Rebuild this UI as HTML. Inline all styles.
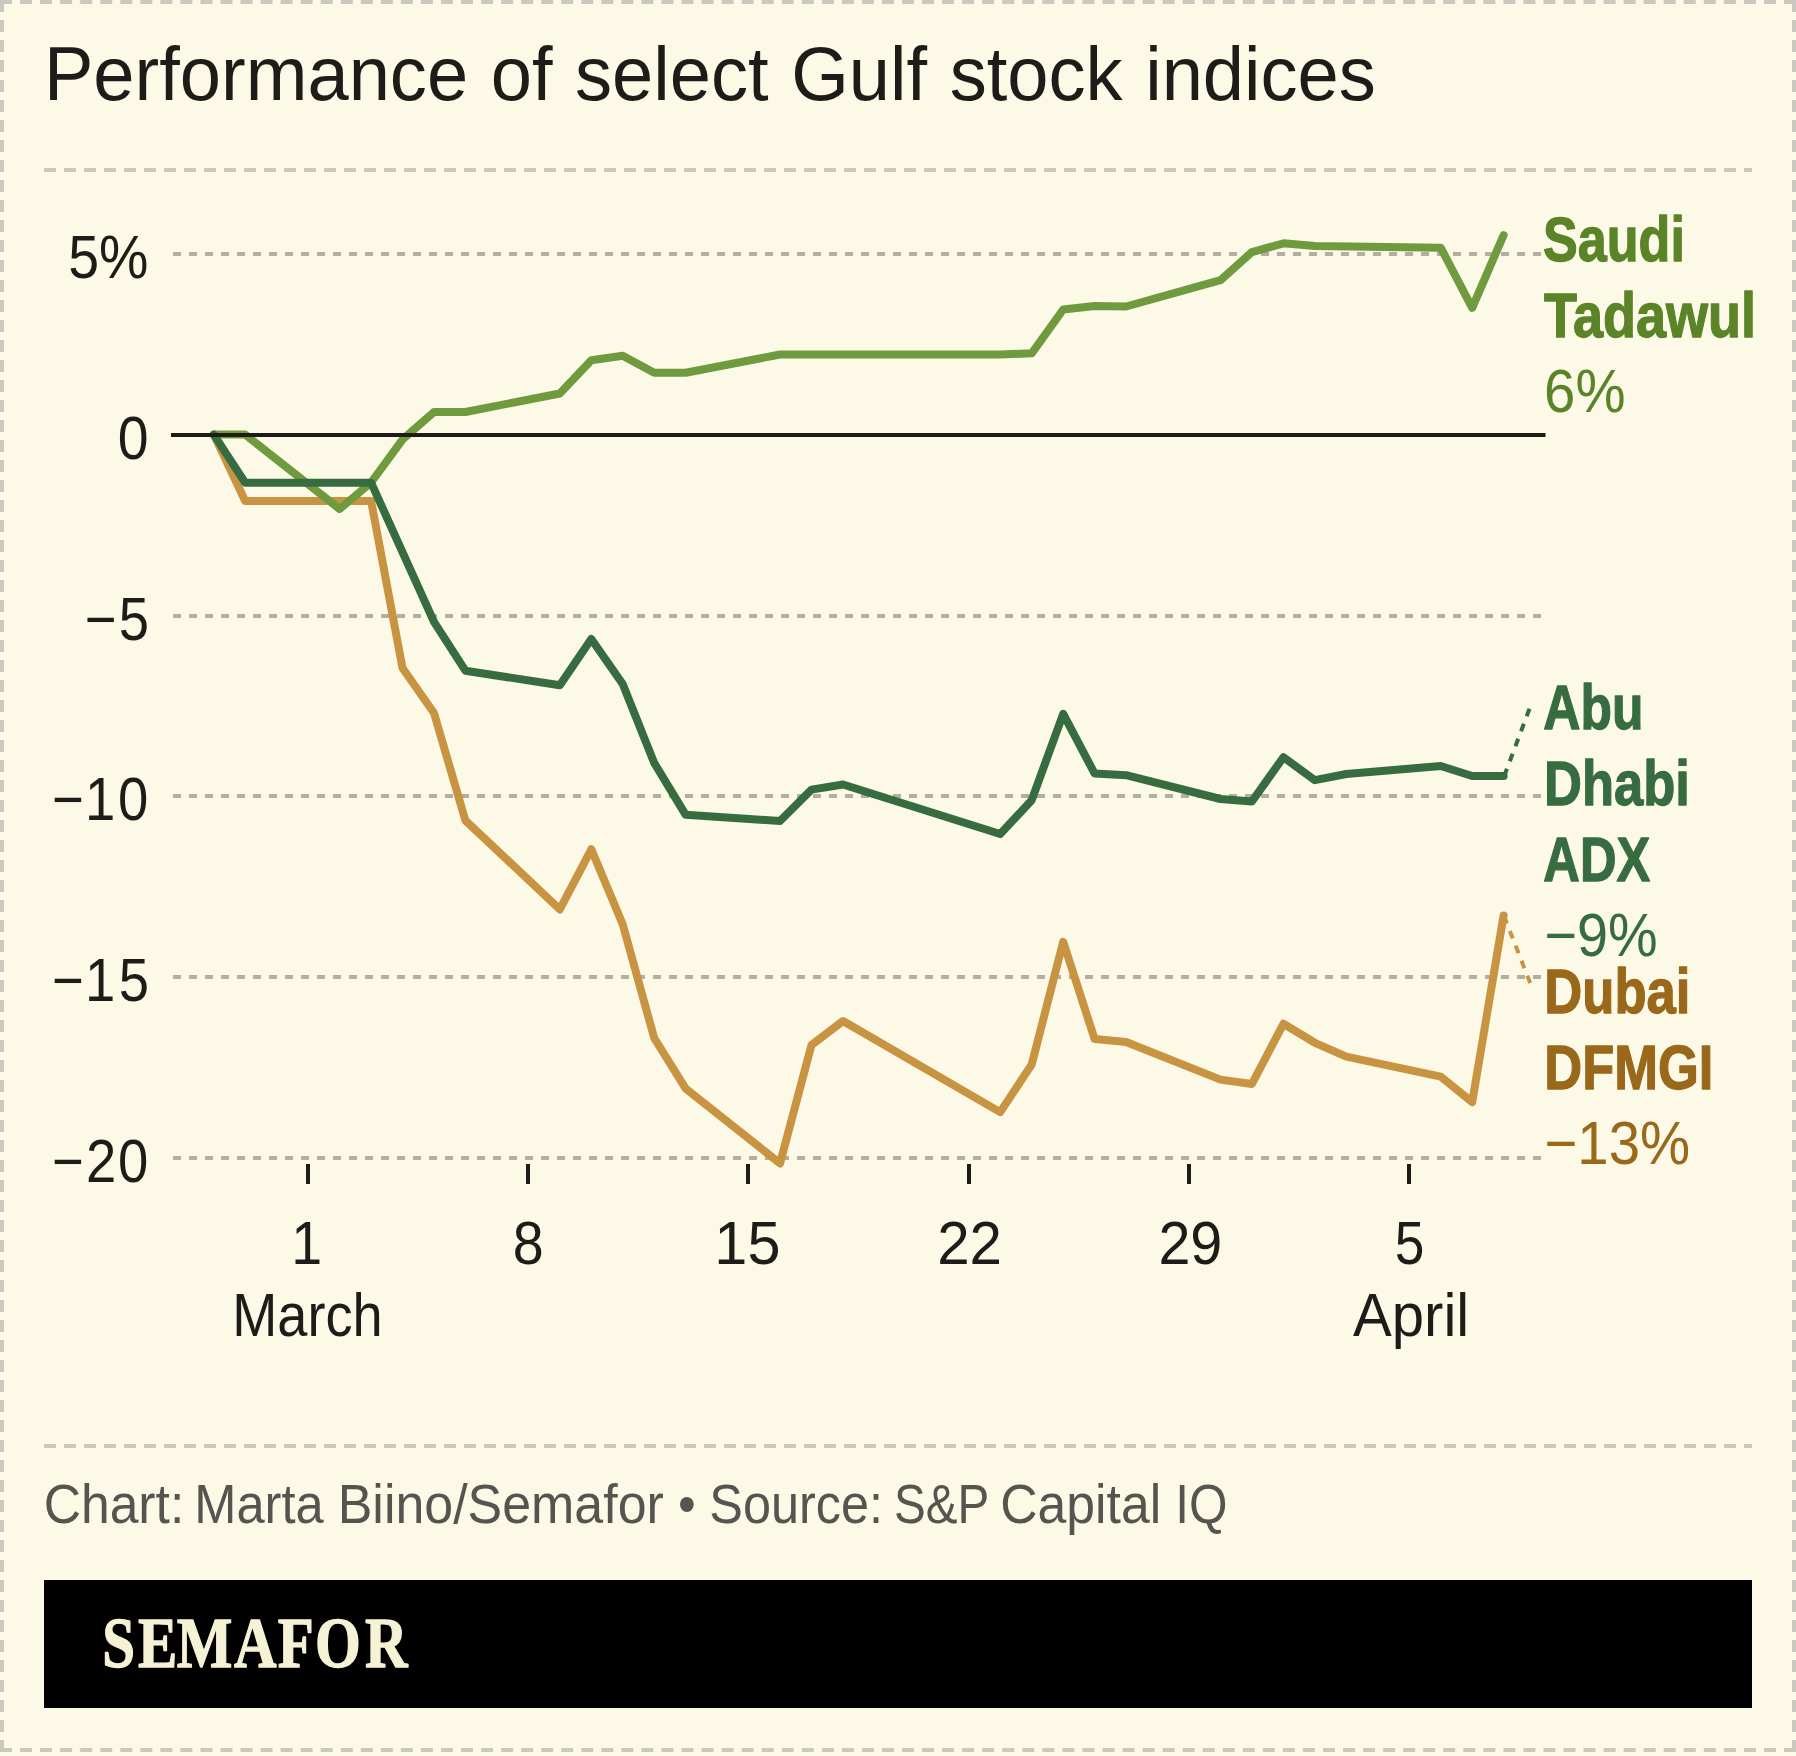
<!DOCTYPE html>
<html lang="en"><head><meta charset="utf-8"><title>Performance of select Gulf stock indices</title>
<style>
html,body{margin:0;padding:0;background:#fcf9e7;}
body{width:1796px;height:1756px;overflow:hidden;font-family:"Liberation Sans",sans-serif;}
svg{display:block}
</style></head><body>
<svg width="1796" height="1756" viewBox="0 0 1796 1756">
<rect x="0" y="0" width="1796" height="1756" fill="#fcf9e7"/>
<g stroke="#cbc8c0" stroke-width="4" fill="none">
<line x1="0" y1="2" x2="1796" y2="2" stroke-dasharray="12 8.0449"/>
<line x1="0" y1="1750" x2="1796" y2="1750" stroke-dasharray="12 8.0449"/>
<line x1="2" y1="0" x2="2" y2="1752" stroke-dasharray="12 8.0000"/>
<line x1="1794" y1="0" x2="1794" y2="1752" stroke-dasharray="12 8.0000"/>
<line x1="44" y1="170" x2="1752" y2="170" stroke-dasharray="12 8"/>
<line x1="44" y1="1446" x2="1752" y2="1446" stroke-dasharray="12 8"/>
</g>
<g stroke="#b2afa0" stroke-width="4" stroke-dasharray="8 8">
<line x1="173" y1="254" x2="1545" y2="254"/>
<line x1="173" y1="616" x2="1545" y2="616"/>
<line x1="173" y1="796" x2="1545" y2="796"/>
<line x1="173" y1="977" x2="1545" y2="977"/>
<line x1="173" y1="1158" x2="1545" y2="1158"/>
</g>
<g stroke="#1d1c19" stroke-width="4">
<line x1="308" y1="1164" x2="308" y2="1184"/>
<line x1="528" y1="1164" x2="528" y2="1184"/>
<line x1="748" y1="1164" x2="748" y2="1184"/>
<line x1="969" y1="1164" x2="969" y2="1184"/>
<line x1="1189" y1="1164" x2="1189" y2="1184"/>
<line x1="1409" y1="1164" x2="1409" y2="1184"/>
</g>
<g fill="none" stroke-width="8" stroke-linejoin="round" stroke-linecap="round">
<polyline stroke="#c89442" points="213.8,434.6 245.2,501.0 371.1,501.0 402.5,668.0 434.0,713.0 465.4,820.5 559.8,909.4 591.3,849.3 622.7,924.3 654.2,1038.0 685.7,1088.7 780.0,1163.4 811.5,1045.0 843.0,1021.0 1000.2,1112.1 1031.7,1064.5 1063.2,941.8 1094.6,1039.0 1126.1,1042.0 1220.5,1079.6 1251.9,1084.0 1283.4,1023.8 1314.9,1042.8 1346.3,1056.6 1440.7,1076.6 1472.2,1102.2 1503.6,915.5"/>
<polyline stroke="#709a3e" points="213.8,434.6 245.2,434.6 339.6,509.0 371.1,482.5 402.5,439.6 434.0,412.0 465.4,412.0 559.8,393.5 591.3,360.2 622.7,355.7 654.2,372.7 685.7,372.7 780.0,354.5 1000.2,354.6 1031.7,353.3 1063.2,309.5 1094.6,306.0 1126.1,306.5 1220.5,280.2 1251.9,252.1 1283.4,243.3 1314.9,246.0 1440.7,247.7 1472.2,307.8 1503.6,235.1"/>
<polyline stroke="#376c40" points="213.8,434.6 245.2,482.7 371.1,482.7 434.0,621.8 465.4,670.7 559.8,685.3 591.3,639.0 622.7,684.0 654.2,762.9 685.7,814.8 780.0,821.0 811.5,789.6 843.0,784.5 1000.2,834.0 1031.7,800.2 1063.2,713.8 1094.6,773.5 1126.1,775.2 1220.5,799.0 1251.9,801.5 1283.4,757.2 1314.9,780.2 1346.3,774.0 1440.7,766.0 1472.2,776.0 1503.6,776.0"/>
</g>
<line x1="171" y1="435" x2="1545.5" y2="435" stroke="#1d1c19" stroke-width="4"/>
<line x1="1529.5" y1="708.8" x2="1504.6" y2="775" stroke="#376c40" stroke-width="4" stroke-dasharray="8 8"/>
<line x1="1530.2" y1="983.1" x2="1504.4" y2="917" stroke="#c89442" stroke-width="4" stroke-dasharray="8 8"/>
<rect x="44" y="1580" width="1708" height="128" fill="#000"/>
<text transform="translate(43.90 99.9) scale(0.9830 1)" word-spacing="2.00" font-family="'Liberation Sans', sans-serif" font-weight="normal" font-size="75.4" fill="#1d1c19">Performance of select Gulf stock indices</text>
<text transform="translate(68.22 278.0) scale(0.9181 1)" font-family="'Liberation Sans', sans-serif" font-weight="normal" font-size="60.5" fill="#1d1c19">5%</text>
<text transform="translate(117.70 459.2) scale(0.9150 1)" font-family="'Liberation Sans', sans-serif" font-weight="normal" font-size="60.5" fill="#1d1c19">0</text>
<text transform="translate(0 639.9) scale(0.9000 1)" x="94.09 131.82" font-family="'Liberation Sans', sans-serif" font-weight="normal" font-size="60.5" fill="#1d1c19">−5</text>
<text transform="translate(0 820.0) scale(0.9000 1)" x="57.70 94.41 131.23" font-family="'Liberation Sans', sans-serif" font-weight="normal" font-size="60.5" fill="#1d1c19">−10</text>
<text transform="translate(0 1001.1) scale(0.9000 1)" x="57.70 94.41 131.82" font-family="'Liberation Sans', sans-serif" font-weight="normal" font-size="60.5" fill="#1d1c19">−15</text>
<text transform="translate(0 1181.6) scale(0.9000 1)" x="57.70 95.56 131.23" font-family="'Liberation Sans', sans-serif" font-weight="normal" font-size="60.5" fill="#1d1c19">−20</text>
<text transform="translate(291.37 1264.2) scale(0.9200 1)" font-family="'Liberation Sans', sans-serif" font-weight="normal" font-size="60.5" fill="#1d1c19">1</text>
<text transform="translate(512.72 1264.2) scale(0.9200 1)" font-family="'Liberation Sans', sans-serif" font-weight="normal" font-size="60.5" fill="#1d1c19">8</text>
<text transform="translate(714.37 1264.2) scale(0.9819 1)" font-family="'Liberation Sans', sans-serif" font-weight="normal" font-size="60.5" fill="#1d1c19">15</text>
<text transform="translate(937.15 1264.2) scale(0.9641 1)" font-family="'Liberation Sans', sans-serif" font-weight="normal" font-size="60.5" fill="#1d1c19">22</text>
<text transform="translate(1158.39 1264.2) scale(0.9505 1)" font-family="'Liberation Sans', sans-serif" font-weight="normal" font-size="60.5" fill="#1d1c19">29</text>
<text transform="translate(1394.77 1264.2) scale(0.8800 1)" font-family="'Liberation Sans', sans-serif" font-weight="normal" font-size="60.5" fill="#1d1c19">5</text>
<text transform="translate(232.25 1336.0) scale(0.8948 1)" font-family="'Liberation Sans', sans-serif" font-weight="normal" font-size="60.5" fill="#1d1c19">March</text>
<text transform="translate(1353.07 1336.0) scale(0.9603 1)" font-family="'Liberation Sans', sans-serif" font-weight="normal" font-size="60.5" fill="#1d1c19">April</text>
<text transform="translate(1543.04 260.7) scale(0.8208 1)" font-family="'Liberation Sans', sans-serif" font-weight="bold" font-size="63.5" fill="#5a8427" stroke="#5a8427" stroke-width="1.3" stroke-linejoin="round">Saudi</text>
<text transform="translate(1544.05 337.0) scale(0.8506 1)" font-family="'Liberation Sans', sans-serif" font-weight="bold" font-size="63.5" fill="#5a8427" stroke="#5a8427" stroke-width="1.3" stroke-linejoin="round">Tadawul</text>
<text transform="translate(1544.10 411.8) scale(0.9313 1)" font-family="'Liberation Sans', sans-serif" font-weight="normal" font-size="60.5" fill="#5a8427">6%</text>
<text transform="translate(1543.33 728.8) scale(0.8122 1)" font-family="'Liberation Sans', sans-serif" font-weight="bold" font-size="63.5" fill="#376c40" stroke="#376c40" stroke-width="1.3" stroke-linejoin="round">Abu</text>
<text transform="translate(1544.12 804.6) scale(0.8270 1)" font-family="'Liberation Sans', sans-serif" font-weight="bold" font-size="63.5" fill="#376c40" stroke="#376c40" stroke-width="1.3" stroke-linejoin="round">Dhabi</text>
<text transform="translate(1543.35 880.7) scale(0.7980 1)" font-family="'Liberation Sans', sans-serif" font-weight="bold" font-size="63.5" fill="#376c40" stroke="#376c40" stroke-width="1.3" stroke-linejoin="round">ADX</text>
<text transform="translate(1544.43 955.5) scale(0.9226 1)" font-family="'Liberation Sans', sans-serif" font-weight="normal" font-size="60.5" fill="#376c40">−9%</text>
<text transform="translate(1544.21 1012.5) scale(0.8294 1)" font-family="'Liberation Sans', sans-serif" font-weight="bold" font-size="63.5" fill="#9a681b" stroke="#9a681b" stroke-width="1.3" stroke-linejoin="round">Dubai</text>
<text transform="translate(1544.22 1088.8) scale(0.8271 1)" font-family="'Liberation Sans', sans-serif" font-weight="bold" font-size="63.5" fill="#9a681b" stroke="#9a681b" stroke-width="1.3" stroke-linejoin="round">DFMGI</text>
<text transform="translate(1544.41 1163.8) scale(0.9315 1)" font-family="'Liberation Sans', sans-serif" font-weight="normal" font-size="60.5" fill="#9a681b">−13%</text>
<text transform="translate(0 1523.3) scale(0.9050 1)" font-family="'Liberation Sans', sans-serif" font-weight="normal" font-size="55.7" fill="#55544f"><tspan x="48.25" textLength="155.36" lengthAdjust="spacingAndGlyphs">Chart:</tspan> <tspan x="214.64" textLength="142.94" lengthAdjust="spacingAndGlyphs">Marta</tspan> <tspan x="373.19" textLength="360.34" lengthAdjust="spacingAndGlyphs">Biino/Semafor</tspan> <tspan x="749.08" textLength="19.61" lengthAdjust="spacingAndGlyphs">•</tspan> <tspan x="783.85" textLength="191.92" lengthAdjust="spacingAndGlyphs">Source:</tspan> <tspan x="987.88" textLength="105.13" lengthAdjust="spacingAndGlyphs">S&amp;P</tspan> <tspan x="1105.15" textLength="177.90" lengthAdjust="spacingAndGlyphs">Capital</tspan> <tspan x="1298.68" textLength="57.77" lengthAdjust="spacingAndGlyphs">IQ</tspan></text>
<text transform="translate(0 1667.0) scale(0.8300 1)" x="123.19 166.28 213.00 281.94 334.77 379.68 439.89" font-family="'Liberation Serif', serif" font-weight="bold" font-size="71.0" fill="#f6f2d6" stroke="#f6f2d6" stroke-width="1.3" stroke-linejoin="round">SEMAFOR</text>
</svg>
</body></html>
